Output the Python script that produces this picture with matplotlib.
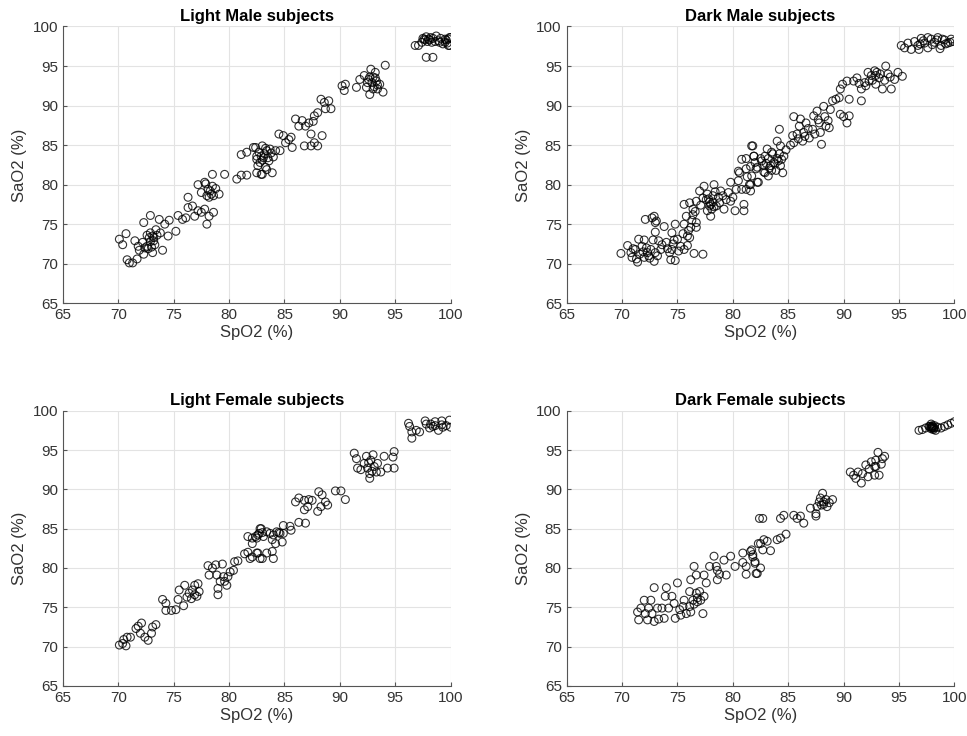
import matplotlib
matplotlib.use('Agg')
import matplotlib.pyplot as plt

# Light Male subjects
lm_spo2 = [70.1, 70.4, 70.7, 70.8, 71.0, 71.3, 71.7, 71.5, 71.9, 72.2, 72.3, 72.6, 72.8, 73.1, 73.3,
           72.9, 72.3, 72.9, 73.4, 73.7, 73.8, 74.2, 74.5, 74.0, 73.2, 73.5, 74.6, 75.2, 75.4, 75.8,
           76.1, 76.3, 76.7, 76.9, 77.2, 77.5, 77.8, 78.0, 78.2, 78.6, 76.3, 77.2, 77.8, 78.1, 78.4,
           78.6, 78.5, 78.5, 79.1, 79.6, 77.5, 78.2, 80.7, 81.1, 81.6, 81.1, 81.6, 82.2, 82.5, 82.6,
           82.9, 82.4, 82.7, 83.0, 82.5, 82.8, 83.1, 83.4, 83.6, 83.3, 82.5, 83.0, 83.9, 83.7, 84.2,
           84.6, 84.5, 84.9, 85.1, 85.4, 85.7, 85.6, 86.0, 86.3, 86.6, 86.9, 86.8, 87.4, 87.7, 88.0,
           87.4, 88.4, 87.7, 88.0, 88.3, 88.6, 89.0, 89.2, 88.7, 90.2, 90.4, 90.5, 91.5, 91.8, 92.2,
           92.5, 92.8, 93.0, 93.3, 93.6, 92.7, 93.9, 93.2, 94.1, 92.4, 93.4, 96.8, 97.1, 97.7, 98.0,
           98.3, 98.7, 99.0, 99.3, 99.6, 100.0, 99.9, 99.9, 97.8, 98.4, 99.8, 97.4, 98.6, 99.5,
           72.9, 73.1, 72.7, 73.0, 78.3, 78.0, 78.8, 77.9, 83.2, 83.5, 82.9, 83.8, 83.4,
           93.0, 92.6, 93.4, 92.9, 97.5, 97.9, 98.2, 99.1, 99.7,
           97.6, 97.8, 98.1, 98.4, 98.9, 99.5, 99.8, 71.8, 72.4, 73.2, 72.6, 83.0, 83.3, 84.0,
           92.7, 93.2, 93.1, 87.6, 87.2]
lm_sao2 = [73.1, 72.4, 73.8, 70.5, 70.1, 70.1, 70.6, 72.9, 71.7, 72.7, 71.2, 72.2, 73.3, 71.4, 72.4,
           73.9, 75.2, 76.1, 74.3, 75.6, 73.9, 75.0, 73.5, 71.7, 73.3, 73.6, 75.5, 74.1, 76.1, 75.6,
           75.8, 77.1, 77.3, 76.0, 76.7, 76.5, 76.9, 75.0, 76.0, 76.5, 78.4, 80.0, 80.3, 79.4, 78.8,
           78.6, 79.8, 81.3, 78.8, 81.3, 79.0, 78.4, 80.7, 81.2, 81.2, 83.8, 84.1, 84.7, 83.6, 82.4,
           81.3, 84.7, 84.1, 84.9, 83.2, 82.8, 83.4, 84.3, 83.0, 82.2, 81.5, 81.3, 81.5, 84.5, 84.3,
           84.3, 86.4, 86.2, 85.3, 85.7, 84.7, 86.0, 88.3, 87.4, 88.1, 87.4, 84.9, 86.4, 85.3, 84.9,
           84.9, 86.2, 88.7, 89.1, 90.8, 90.4, 90.6, 89.6, 89.6, 92.5, 91.9, 92.7, 92.3, 93.3, 93.8,
           92.9, 94.6, 92.1, 93.1, 92.7, 91.4, 91.7, 94.2, 95.1, 92.3, 92.1, 97.6, 97.6, 98.3, 98.4,
           98.0, 98.8, 98.0, 97.8, 98.3, 98.6, 98.6, 97.6, 96.1, 96.1, 97.6, 98.0, 98.1, 98.4,
           72.8, 73.5, 71.9, 72.1, 79.2, 78.6, 79.5, 80.1, 83.9, 83.4, 83.6, 84.0, 81.9,
           93.6, 93.3, 92.6, 92.9, 98.5, 98.1, 98.6, 98.5, 97.9,
           98.4, 98.7, 98.3, 98.5, 98.2, 98.0, 98.4, 72.2, 72.0, 72.9, 73.6, 83.1, 84.6, 83.5,
           93.6, 93.5, 92.4, 88.0, 87.8]

# Dark Male subjects
dm_spo2 = [69.9, 70.5, 70.8, 70.9, 71.2, 71.4, 71.6, 71.8, 72.0, 71.5, 72.0, 72.3, 72.4, 72.6, 72.8,
           72.9, 73.0, 73.3, 73.5, 72.1, 72.9, 73.1, 73.0, 73.8, 74.0, 74.3, 74.4, 74.5, 74.8, 74.7,
           75.0, 75.3, 75.6, 75.9, 76.5, 77.3, 74.5, 74.8, 75.6, 75.9, 76.1, 76.2, 76.7, 75.8, 76.4,
           76.7, 75.6, 76.1, 76.4, 76.7, 77.0, 77.4, 77.6, 77.9, 78.0, 77.7, 78.2, 78.3, 78.5, 78.8,
           78.9, 79.2, 79.4, 79.8, 80.2, 79.8, 80.3, 80.8, 81.0, 81.0, 81.2, 81.5, 81.7, 80.6, 80.8,
           81.2, 81.8, 81.9, 82.2, 81.2, 80.5, 81.7, 81.9, 82.0, 82.2, 82.3, 81.6, 81.6, 82.5, 82.8,
           82.9, 83.1, 83.2, 83.4, 83.5, 83.7, 83.9, 84.0, 84.2, 84.3, 84.5, 84.6, 84.3, 84.0, 84.2,
           82.9, 83.2, 83.5, 85.4, 85.5, 85.8, 86.0, 86.1, 86.3, 86.4, 86.6, 86.9, 87.2, 87.3, 87.6,
           87.8, 87.9, 88.0, 88.2, 88.4, 88.7, 88.8, 85.5, 89.0, 89.3, 89.6, 89.7, 90.0, 90.3, 90.5,
           89.7, 89.9, 90.3, 90.5, 90.9, 91.2, 91.6, 91.6, 91.9, 92.2, 92.5, 92.8, 92.9, 93.2, 93.5,
           93.8, 94.0, 94.3, 94.6, 94.9, 95.3, 92.0, 92.3, 93.0, 95.2, 95.5, 95.8, 96.1, 96.4, 96.7,
           97.0, 97.3, 97.6, 97.9, 98.2, 98.5, 98.8, 99.1, 99.4, 99.7, 99.9, 98.7, 96.8,
           78.0, 77.8, 78.1, 77.9, 78.3,
           71.0, 71.3, 71.9, 72.2, 72.5, 73.2, 73.6, 74.1, 74.6, 75.1, 72.7, 73.0, 75.5, 76.0, 76.3,
           76.6, 77.1, 77.3, 77.7, 78.2, 78.4, 78.7, 79.1, 79.6, 80.0, 80.5, 81.3, 81.6, 82.1, 82.6,
           82.8, 83.0, 83.3, 83.6, 83.8, 84.1, 84.4, 84.8, 85.2, 85.9, 86.5, 86.8, 87.4, 87.7, 88.3,
           88.6, 92.6, 92.9, 93.3, 93.7, 94.2, 91.4, 97.2, 97.6, 98.0, 98.4, 98.9, 99.2, 99.6, 96.9]
dm_sao2 = [71.3, 72.3, 71.4, 70.8, 71.8, 70.2, 71.2, 72.2, 70.8, 73.1, 73.0, 71.4, 71.0, 71.8, 73.0,
           70.3, 71.4, 72.9, 71.8, 75.6, 76.0, 75.4, 74.0, 74.7, 72.7, 71.4, 70.5, 71.8, 70.4, 73.0,
           73.1, 72.2, 71.8, 72.3, 71.3, 71.2, 73.9, 75.0, 75.0, 73.5, 73.3, 74.6, 74.6, 76.0, 76.2,
           75.2, 77.5, 77.7, 76.9, 77.9, 79.2, 79.8, 78.1, 77.3, 76.0, 76.7, 78.6, 80.0, 77.3, 77.7,
           79.2, 76.9, 78.1, 77.9, 76.7, 80.3, 79.4, 79.4, 77.5, 76.7, 79.4, 80.0, 81.1, 81.5, 83.2,
           83.3, 84.9, 83.6, 80.3, 82.0, 81.7, 84.9, 83.6, 82.8, 82.2, 80.3, 80.0, 79.2, 83.3, 82.4,
           83.6, 84.5, 83.3, 82.4, 84.1, 82.8, 81.8, 83.3, 83.9, 82.4, 81.5, 83.6, 84.9, 85.5, 87.0,
           81.5, 81.1, 81.8, 86.2, 85.3, 86.4, 87.4, 88.3, 85.5, 86.6, 87.8, 85.9, 87.0, 88.7, 89.3,
           87.8, 86.6, 85.1, 89.9, 87.4, 87.2, 89.5, 88.6, 90.6, 90.8, 91.0, 88.9, 88.6, 87.8, 88.7,
           92.1, 92.7, 93.1, 90.8, 93.1, 93.5, 90.6, 92.1, 92.9, 94.2, 93.8, 94.4, 92.7, 93.5, 92.1,
           95.0, 94.0, 92.1, 93.3, 94.2, 93.7, 92.5, 93.1, 94.2, 97.6, 97.3, 97.9, 97.1, 98.1, 97.6,
           98.5, 97.9, 97.3, 98.4, 98.0, 98.6, 97.6, 98.3, 97.9, 98.4, 98.1, 97.2, 97.1,
           77.5, 78.2, 76.9, 77.8, 77.2,
           71.9, 70.6, 71.5, 72.0, 70.7, 71.0, 72.4, 71.9, 72.5, 71.6, 75.8, 75.2, 73.8, 74.2, 75.5,
           76.6, 77.4, 78.3, 78.8, 77.8, 79.1, 78.4, 78.6, 79.0, 78.4, 80.5, 81.0, 82.3, 82.0, 83.0,
           81.6, 82.7, 82.1, 83.9, 82.6, 83.0, 83.2, 84.4, 85.0, 85.8, 86.1, 87.1, 86.4, 88.2, 88.6,
           88.1, 93.2, 93.8, 94.0, 93.2, 93.6, 92.8, 98.2, 98.6, 97.7, 98.3, 98.4, 97.8, 98.0, 97.8]

# Light Female subjects
lf_spo2 = [70.1, 70.4, 70.7, 70.5, 70.8, 71.1, 71.6, 71.8, 72.1, 72.0, 72.4, 72.7, 73.0, 73.1, 73.4,
           74.0, 74.3, 74.3, 74.8, 75.2, 75.4, 75.5, 75.9, 76.0, 76.2, 76.4, 76.6, 76.7, 76.9, 77.2,
           77.3, 76.9, 77.1, 78.1, 78.2, 78.5, 78.8, 78.9, 79.0, 79.0, 79.2, 79.4, 79.5, 79.8, 79.9,
           79.6, 80.1, 80.4, 80.5, 80.8, 81.4, 81.7, 81.9, 81.7, 82.1, 82.5, 82.8, 82.6, 82.8,
           82.1, 82.4, 82.7, 82.9, 83.1, 83.4, 83.7, 84.0, 84.3, 84.6, 84.9, 84.2, 84.8, 83.9, 82.5,
           83.0, 83.4, 83.9, 84.0, 82.1, 84.9, 85.5, 85.6, 86.3, 86.9, 86.0, 86.3, 86.8, 87.2, 86.8,
           87.1, 87.5, 88.0, 88.1, 88.3, 88.4, 88.7, 88.9, 89.6, 90.1, 90.5, 91.3, 91.5, 91.6, 91.9,
           92.2, 92.4, 92.5, 92.7, 92.8, 93.0, 93.1, 93.3, 92.7, 93.4, 93.7, 94.0, 94.3, 94.8, 94.9,
           94.9, 96.2, 96.3, 96.5, 96.5, 96.9, 97.2, 97.7, 97.8, 98.1, 98.6, 98.9, 99.2, 99.3, 99.9,
           100.0, 98.2, 98.6, 99.6,
           82.6, 83.0, 84.5, 92.6, 92.9, 98.4, 99.2]
lf_sao2 = [70.2, 70.4, 70.1, 70.9, 71.2, 71.2, 72.3, 72.6, 73.0, 71.7, 71.2, 70.8, 71.7, 72.5, 72.8,
           76.0, 75.5, 74.6, 74.6, 74.7, 76.0, 77.2, 75.2, 77.8, 76.3, 76.8, 76.1, 77.2, 77.8, 78.0,
           77.0, 76.6, 76.4, 80.3, 79.1, 80.0, 80.4, 79.1, 77.4, 76.6, 78.3, 80.5, 78.9, 77.8, 78.9,
           78.3, 79.5, 79.7, 80.8, 80.9, 81.8, 82.0, 81.2, 84.0, 83.1, 83.8, 81.2, 81.9, 85.0,
           83.8, 84.0, 84.4, 85.0, 84.0, 84.6, 84.4, 84.2, 84.6, 84.4, 84.4, 83.1, 83.3, 83.6, 81.9,
           81.2, 81.9, 82.1, 81.2, 81.4, 85.4, 85.3, 84.8, 85.8, 85.7, 88.4, 88.9, 88.6, 88.7, 87.4,
           87.8, 88.6, 87.2, 89.7, 87.8, 89.3, 88.4, 88.0, 89.8, 89.8, 88.7, 94.6, 93.9, 92.7, 92.5,
           93.3, 94.2, 92.7, 92.0, 93.7, 94.4, 92.9, 92.2, 91.4, 93.3, 92.2, 94.2, 92.7, 94.1, 94.8,
           92.7, 98.4, 98.0, 97.3, 96.5, 97.5, 97.3, 98.7, 98.3, 97.8, 98.1, 97.5, 98.7, 97.9, 98.8,
           97.9, 98.3, 98.6, 98.1,
           84.2, 84.5, 84.5, 93.4, 92.3, 98.0, 98.2]

# Dark Female subjects
df_spo2 = [71.4, 71.5, 71.7, 72.0, 72.1, 72.3, 72.4, 72.6, 72.7, 72.9, 72.9, 73.2, 73.3, 73.6, 73.8,
           73.9, 74.0, 74.2, 74.5, 74.7, 74.8, 75.0, 75.2, 75.3, 75.5, 75.6, 75.8, 76.1, 76.1, 76.2,
           76.2, 76.4, 76.5, 76.7, 76.7, 76.8, 77.0, 77.1, 77.3, 77.4, 77.4, 77.6, 77.9, 78.3, 78.5,
           78.6, 78.6, 78.8, 79.2, 79.4, 79.8, 80.2, 80.9, 80.9, 81.2, 81.2, 81.7, 81.8, 82.0, 82.1,
           82.3, 82.4, 81.6, 81.8, 82.0, 82.2, 82.5, 82.5, 82.7, 82.8, 83.1, 83.4, 82.7, 84.0, 84.3,
           84.8, 84.3, 84.6, 85.5, 85.8, 86.1, 86.4, 87.0, 87.5, 87.6, 87.8, 87.9, 88.1, 88.2, 88.4,
           88.5, 88.7, 89.0, 87.5, 90.6, 90.9, 91.1, 91.3, 91.6, 91.7, 92.0, 92.2, 92.3, 92.5, 92.8,
           92.9, 93.1, 93.2, 93.4, 93.5, 93.7, 92.8, 96.8, 97.1, 97.4, 97.7, 97.9, 98.0, 98.2, 98.3,
           98.5, 98.8, 99.1, 99.4, 99.7, 100.0, 97.9, 98.0, 97.9, 98.1, 98.0,
           98.0, 97.8, 98.1, 98.2, 88.2, 88.0, 92.9, 76.8, 76.5]
df_sao2 = [74.4, 73.4, 74.9, 75.9, 74.2, 73.4, 74.9, 75.9, 74.2, 73.2, 77.5, 74.9, 73.5, 74.9, 73.6,
           76.4, 77.5, 74.9, 76.4, 75.5, 73.6, 78.1, 74.7, 74.0, 75.1, 75.9, 74.2, 77.0, 75.1, 78.5,
           74.4, 75.9, 80.2, 76.8, 79.1, 75.7, 77.0, 75.9, 74.2, 79.1, 76.4, 78.1, 80.2, 81.5, 80.2,
           79.7, 78.5, 79.2, 81.0, 79.1, 81.5, 80.2, 81.9, 80.7, 79.2, 80.2, 82.3, 81.7, 80.6, 79.3,
           83.1, 86.3, 82.1, 81.4, 80.8, 79.3, 80.0, 83.1, 82.3, 83.6, 83.4, 82.2, 86.3, 83.6, 83.8,
           84.3, 86.3, 86.7, 86.7, 86.3, 86.6, 85.7, 87.6, 86.9, 87.8, 88.4, 88.9, 89.5, 88.1, 88.7,
           87.8, 88.3, 88.7, 86.6, 92.2, 91.8, 91.4, 92.2, 90.8, 92.0, 93.1, 91.6, 92.6, 93.5, 92.9,
           93.7, 94.7, 91.8, 93.2, 93.9, 94.2, 91.8, 97.5, 97.6, 97.8, 98.0, 98.3, 97.8, 98.1, 97.5,
           97.9, 97.8, 98.0, 98.2, 98.4, 98.6, 97.7, 98.0, 97.9, 97.8, 98.1,
           97.9, 98.0, 97.6, 97.8, 88.4, 88.0, 92.9, 76.2, 75.4]

panels = [
    ('Light Male subjects', lm_spo2, lm_sao2, [0.065, 0.588, 0.401, 0.376]),
    ('Dark Male subjects', dm_spo2, dm_sao2, [0.586, 0.588, 0.401, 0.376]),
    ('Light Female subjects', lf_spo2, lf_sao2, [0.065, 0.068, 0.401, 0.374]),
    ('Dark Female subjects', df_spo2, df_sao2, [0.586, 0.068, 0.401, 0.374]),
]

plt.rcParams['font.family'] = ['Liberation Sans', 'DejaVu Sans']

fig = plt.figure(figsize=(9.67, 7.36), dpi=100)

for title, xs, ys, rect in panels:
    ax = fig.add_axes(rect)
    ax.scatter(xs, ys, s=32, facecolors='none', edgecolors='black',
               linewidths=0.8, alpha=0.8, zorder=3)
    ax.set_xlim(65, 100)
    ax.set_ylim(65, 100)
    ax.set_xticks(range(65, 101, 5))
    ax.set_yticks(range(65, 101, 5))
    ax.grid(True, color='#e3e3e3', linewidth=0.8)
    ax.set_axisbelow(True)
    for side in ('top', 'right'):
        ax.spines[side].set_visible(False)
    for side in ('left', 'bottom'):
        ax.spines[side].set_color('#555555')
        ax.spines[side].set_linewidth(0.8)
    ax.tick_params(direction='in', length=3, color='#555555', labelcolor='#333333',
                   labelsize=11)
    ax.set_xlabel('SpO2 (%)', fontsize=12, color='#333333', labelpad=2)
    ax.set_ylabel('SaO2 (%)', fontsize=12, color='#333333', labelpad=4)
    ax.set_title(title, fontsize=12, fontweight='bold', pad=4)

fig.savefig('out.png', dpi=100)
